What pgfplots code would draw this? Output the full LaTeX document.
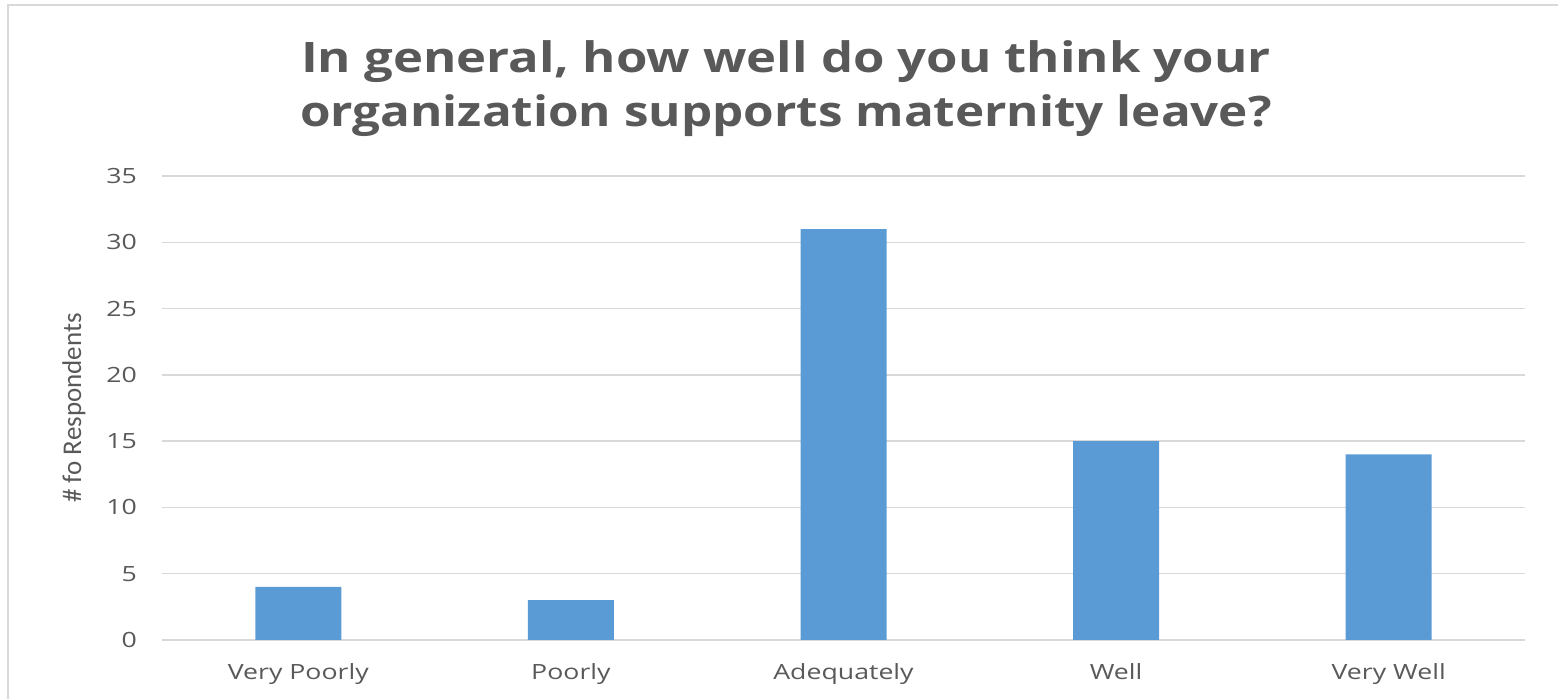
\documentclass[border=0pt]{standalone}
\usepackage{pgfplots}
\pgfplotsset{compat=1.18}
\usepackage{fontspec}
\setmainfont{Open Sans}
\newfontfamily\carlito{Carlito}
\newfontfamily\titlefontA[FakeStretch=1.21]{Open Sans Bold}
\newfontfamily\titlefontB[FakeStretch=1.176]{Open Sans Bold}
\newfontfamily\tickfont[FakeStretch=1.27]{Open Sans}
\definecolor{barblue}{HTML}{5B9BD5}
\definecolor{txtgray}{HTML}{595959}
\definecolor{gridgray}{HTML}{D9D9D9}
\begin{document}
\begin{tikzpicture}
\path[use as bounding box] (0,0) rectangle (779pt,349.5pt);
\draw[gridgray, line width=1.2pt] (4pt,0) -- (4pt,347pt) -- (779pt,347pt);
\node[anchor=base, text=txtgray, font=\titlefontA\fontsize{21}{25}\selectfont] at (393pt,313pt) {In general, how well do you think your};
\node[anchor=base, text=txtgray, font=\titlefontB\fontsize{21}{25}\selectfont] at (393pt,286pt) {organization supports maternity leave?};
\begin{axis}[
  at={(81pt,29.5pt)}, anchor=south west,
  scale only axis, width=681.5pt, height=232pt,
  xmin=-0.5, xmax=4.5, ymin=0, ymax=35,
  ytick={0,5,...,35},
  xtick={0,1,2,3,4},
  xticklabels={Very Poorly,Poorly,Adequately,Well,Very Well},
  axis line style={draw=none},
  major tick length=0pt,
  ymajorgrids, grid style={gridgray, line width=0.75pt},
  tick label style={text=txtgray, font=\tickfont\fontsize{10.5}{12}\selectfont},
  /pgf/number format/assume math mode=true,
  yticklabel style={xshift=-9pt},
  xticklabel style={yshift=-8pt},
  ylabel={\carlito\fontsize{13.5}{15}\selectfont \# fo Respondents},
  ylabel style={text=txtgray},
  every axis y label/.append style={at={(-44pt,116pt)}, anchor=center, rotate=0},
]
\addplot[ybar, bar width=43pt, fill=barblue, draw=none] coordinates {(0,4) (1,3) (2,31) (3,15) (4,14)};
\end{axis}
\end{tikzpicture}
\end{document}
